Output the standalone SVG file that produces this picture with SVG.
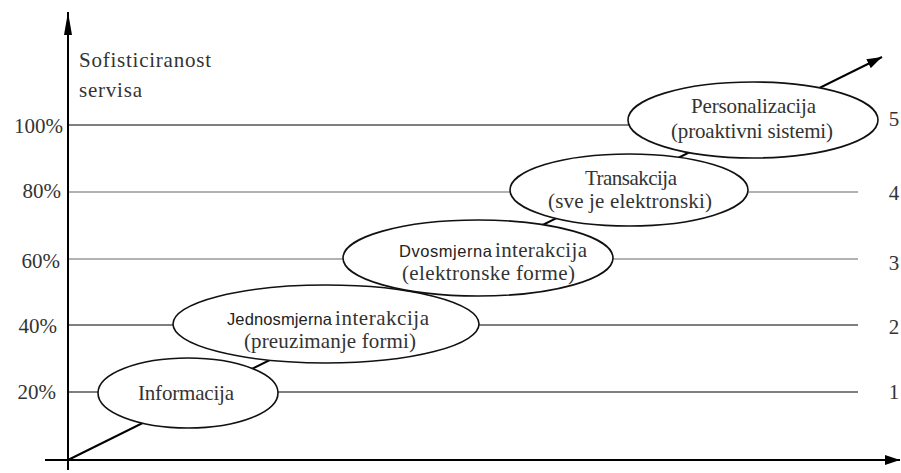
<svg xmlns="http://www.w3.org/2000/svg" width="901" height="473" viewBox="0 0 901 473">
<style>
.t{font-family:"Liberation Serif","Times New Roman",serif;font-size:21px;fill:#333}
.s{font-family:"Liberation Sans",Arial,sans-serif;font-size:16.5px;fill:#222}
.g{stroke:#000;stroke-width:1.2;fill:none}
.gl{stroke:#666;stroke-width:1.2;fill:none}
.ax{stroke:#000;stroke-width:2;fill:none}
.el{fill:none;stroke:#111;stroke-width:1.6}
.bg{fill:#fff;stroke:none}
</style>
<defs>
<marker id="ah" markerUnits="userSpaceOnUse" markerWidth="15" markerHeight="10" refX="15" refY="5" orient="auto">
<path d="M0,0 L15,5 L0,10 z" fill="#000"/>
</marker>
<marker id="ahy" markerUnits="userSpaceOnUse" markerWidth="23" markerHeight="8" refX="23" refY="4" orient="auto">
<path d="M0,0 L23,4 L0,8 z" fill="#000"/>
</marker>
</defs>
<rect width="901" height="473" fill="#fff"/>
<g id="connectors">
<line class="g" x1="68" y1="125" x2="858" y2="125"/>
<line class="gl" x1="68" y1="192" x2="858" y2="192"/>
<line class="gl" x1="68" y1="259" x2="858" y2="259"/>
<line class="g" x1="68" y1="325" x2="858" y2="325"/>
<line class="g" x1="68" y1="392" x2="858" y2="392"/>
<line class="ax" x1="68" y1="470" x2="68" y2="12" marker-end="url(#ahy)"/>
<line class="ax" x1="45" y1="460" x2="900" y2="460" marker-end="url(#ah)"/>
<line class="ax" x1="68" y1="460" x2="882" y2="57" marker-end="url(#ah)"/>
</g>
<g id="node-backgrounds">
<ellipse class="bg" cx="188" cy="393" rx="90" ry="35"/>
<ellipse class="bg" cx="326" cy="324" rx="153" ry="39"/>
<ellipse class="bg" cx="478" cy="258" rx="135" ry="38"/>
<ellipse class="bg" cx="629" cy="190" rx="119" ry="36"/>
<ellipse class="bg" cx="753" cy="120" rx="125" ry="38"/>
</g>
<g id="axis-labels">
<text class="t" x="79" y="67" textLength="132" lengthAdjust="spacing">Sofisticiranost</text>
<text class="t" x="79" y="97" textLength="63" lengthAdjust="spacing">servisa</text>
<text class="t" x="63" y="133" text-anchor="end">100%</text>
<text class="t" x="61" y="198" text-anchor="end">80%</text>
<text class="t" x="60" y="268" text-anchor="end">60%</text>
<text class="t" x="57" y="333" text-anchor="end">40%</text>
<text class="t" x="56" y="399" text-anchor="end">20%</text>
<text class="t" x="894" y="126" text-anchor="middle">5</text>
<text class="t" x="894" y="200" text-anchor="middle">4</text>
<text class="t" x="894" y="270" text-anchor="middle">3</text>
<text class="t" x="894" y="334" text-anchor="middle">2</text>
<text class="t" x="894" y="399" text-anchor="middle">1</text>
</g>
<g id="n1">
<ellipse class="el" cx="188" cy="393" rx="90" ry="35"/>
<text class="t" x="138" y="400" textLength="96" lengthAdjust="spacing">Informacija</text>
</g>
<g id="n2">
<ellipse class="el" cx="326" cy="324" rx="153" ry="39"/>
<text x="227" y="325"><tspan class="s" textLength="105" lengthAdjust="spacing">Jednosmjerna</tspan><tspan class="t" x="335" textLength="94" lengthAdjust="spacing">interakcija</tspan></text>
<text class="t" x="244" y="348" textLength="172" lengthAdjust="spacing">(preuzimanje formi)</text>
</g>
<g id="n3">
<ellipse class="el" cx="478" cy="258" rx="135" ry="38"/>
<text x="399" y="257"><tspan class="s" textLength="93" lengthAdjust="spacing">Dvosmjerna</tspan><tspan class="t" x="495" textLength="92" lengthAdjust="spacing">interakcija</tspan></text>
<text class="t" x="402" y="280" textLength="173" lengthAdjust="spacing">(elektronske forme)</text>
</g>
<g id="n4">
<ellipse class="el" cx="629" cy="190" rx="119" ry="36"/>
<text class="t" x="585" y="185" textLength="92" lengthAdjust="spacing">Transakcija</text>
<text class="t" x="548" y="208" textLength="164" lengthAdjust="spacing">(sve je elektronski)</text>
</g>
<g id="n5">
<ellipse class="el" cx="753" cy="120" rx="125" ry="38"/>
<text class="t" x="691" y="113" textLength="125" lengthAdjust="spacing">Personalizacija</text>
<text class="t" x="671" y="138" textLength="162" lengthAdjust="spacing">(proaktivni sistemi)</text>
</g>
</svg>
